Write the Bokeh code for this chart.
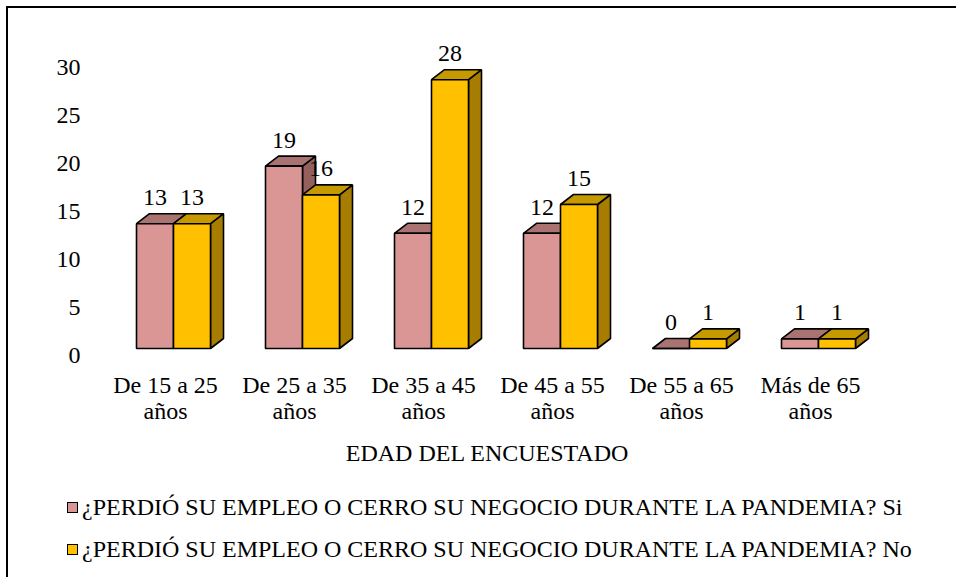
from bokeh.plotting import figure
from bokeh.layouts import column
from bokeh.models import (Range1d, LinearAxis, FixedTicker, ColumnDataSource, LabelSet, Div)
from bokeh.embed import file_html
from bokeh.resources import INLINE

# ---------------- data ----------------
categories = ["De 15 a 25\naños", "De 25 a 35\naños", "De 35 a 45\naños",
              "De 45 a 55\naños", "De 55 a 65\naños", "Más de 65\naños"]
si_values = [13, 19, 12, 12, 0, 1]
no_values = [13, 16, 28, 15, 1, 1]
y_ticks = [0, 5, 10, 15, 20, 25, 30]
series_names = ["¿PERDIÓ SU EMPLEO O CERRO SU NEGOCIO DURANTE LA PANDEMIA? Si",
                "¿PERDIÓ SU EMPLEO O CERRO SU NEGOCIO DURANTE LA PANDEMIA? No"]
x_axis_title = "EDAD DEL ENCUESTADO"

# ---------------- style ----------------
FONT = "Liberation Serif"
FS = "24px"
PX_X = 129.0   # pixels per category
PX_Y = 9.6     # pixels per unit
BAR_W = 37 / PX_X
DX = 13 / PX_X
DY = 10 / PX_Y

pink = dict(front="#D99694", top="#A97371", side="#93605E")
gold = dict(front="#FFC000", top="#C49A00", side="#A67D00")

frame_w, frame_h = 790, 325
xs0 = -81 / PX_X
ys0 = -17 / PX_Y
x_rng = Range1d(xs0, xs0 + frame_w / PX_X)
y_rng = Range1d(ys0, ys0 + frame_h / PX_Y)

p = figure(frame_width=frame_w, frame_height=frame_h, x_range=x_rng, y_range=y_rng,
           output_backend="svg", toolbar_location=None,
           x_axis_location=None, y_axis_location=None,
           min_border_left=84, min_border_right=74,
           min_border_top=32, min_border_bottom=121)
p.grid.visible = False
p.outline_line_color = None
p.background_fill_color = "white"
p.border_fill_color = "white"

def bar_shapes(values, offset):
    lefts = [i + offset for i in range(len(values))]
    rights = [l + BAR_W for l in lefts]
    top_xs = [[l, r, r + DX, l + DX] for l, r in zip(lefts, rights)]
    top_ys = [[v, v, v + DY, v + DY] for v in values]
    side_xs = [[r, r + DX, r + DX, r] for r in rights]
    side_ys = [[0, DY, v + DY, v] for v in values]
    return lefts, rights, top_xs, top_ys, side_xs, side_ys

for values, offset, col in ((si_values, -BAR_W, pink), (no_values, 0.0, gold)):
    lefts, rights, txs, tys, sxs, sys_ = bar_shapes(values, offset)
    p.patches(sxs, sys_, fill_color=col["side"], line_color="black", line_width=1.6)
    p.patches(txs, tys, fill_color=col["top"], line_color="black", line_width=1.6)
    p.quad(left=lefts, right=rights, bottom=[0] * len(values), top=values,
           fill_color=col["front"], line_color="black", line_width=1.6)
    src = ColumnDataSource(dict(x=[(l + rr) / 2 for l, rr in zip(lefts, rights)],
                                y=values, t=[str(v) for v in values]))
    p.add_layout(LabelSet(x="x", y="y", text="t", source=src, y_offset=26,
                          text_align="center", text_baseline="middle",
                          text_font=FONT, text_font_size=FS, text_color="black"))

# y axis (labels sit slightly below the front-face baseline, as in 3D chart)
p.extra_y_ranges = {"ax": Range1d(y_rng.start + 7 / PX_Y, y_rng.end + 7 / PX_Y)}
yax = LinearAxis(y_range_name="ax", ticker=FixedTicker(ticks=y_ticks))
yax.axis_line_color = None
yax.major_tick_line_color = None
yax.minor_tick_line_color = None
yax.major_label_standoff = 6
yax.major_label_text_font = FONT
yax.major_label_text_font_size = FS
yax.major_label_text_color = "black"
p.add_layout(yax, "left")

# x axis
p.extra_x_ranges = {"cx": Range1d(x_rng.start + 8 / PX_X, x_rng.end + 8 / PX_X)}
xax = LinearAxis(x_range_name="cx", ticker=FixedTicker(ticks=list(range(len(categories)))),
                 major_label_overrides={i: c for i, c in enumerate(categories)})
xax.axis_line_color = None
xax.major_tick_line_color = None
xax.minor_tick_line_color = None
xax.major_label_standoff = 0
xax.major_label_text_font = FONT
xax.major_label_text_font_size = FS
xax.major_label_text_line_height = 1.0
xax.major_label_text_color = "black"
xax.axis_label = x_axis_title
xax.axis_label_text_font = FONT
xax.axis_label_text_font_size = FS
xax.axis_label_text_font_style = "normal"
xax.axis_label_text_color = "black"
xax.axis_label_standoff = 13
p.add_layout(xax, "below")

# legend (HTML panel below the plot)
def legend_row(color, label):
    return ('<div style="height:42px;line-height:42px;white-space:nowrap;">'
            f'<span style="display:inline-block;width:11px;height:11px;'
            f'border:1px solid black;background:{color};margin-right:4px;'
            f'vertical-align:middle;position:relative;top:-2px;"></span>{label}</div>')

legend_html = legend_row(pink["front"], series_names[0]) + legend_row(gold["front"], series_names[1])
leg = Div(text=legend_html, width=948, height=91,
          styles={"font-family": FONT, "font-size": FS, "color": "black",
                  "padding-left": "59px", "margin": "0"})

layout = column(p, leg, spacing=0)
layout.styles = {"margin-top": "6px", "margin-left": "6px",
                 "border-top": "2px solid black", "border-left": "2px solid black"}

open("out.html", "w").write(file_html(layout, INLINE))
